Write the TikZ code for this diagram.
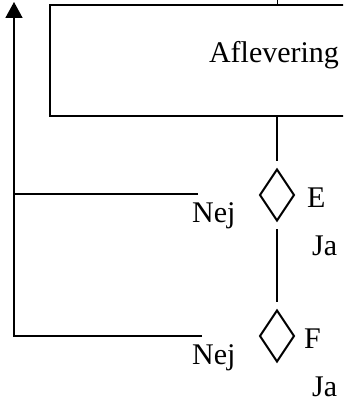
\documentclass[tikz,border=0pt]{standalone}
\usepackage{fontspec}
\setmainfont{Liberation Serif}
\usetikzlibrary{arrows.meta, shapes.geometric}

\begin{document}
\begin{tikzpicture}[x=1pt, y=-1pt,
  blockbox/.style={rectangle, draw=black, line width=1.6pt,
                   minimum width=448pt, minimum height=111pt, inner sep=0pt},
  decbox/.style={diamond, draw=black, line width=2pt, inner sep=0pt,
                 minimum width=39pt, minimum height=56pt, outer sep=6pt},
  lbl/.style={anchor=base west, inner sep=0pt, font=\fontsize{30}{30}\selectfont},
  link/.style={line width=1.6pt, black},
  arr/.style={-{Triangle[width=17pt, length=16pt]}, line width=1.6pt, black}
]
\clip (0,0) rectangle (343,403);

% Box at the top, cut off at the right
\node[blockbox] (afl) at (274,60.5) {};
\node[lbl, anchor=base] (afltxt) at (274,63) {Aflevering};

% Decisions
\node[decbox] (E) at (277,195) {};
\node[decbox] (F) at (277,336) {};

\node[lbl] (Eno)  at (192,222) {Nej};
\node[lbl] (Etag) at (307,207) {E};
\node[lbl] (Eja)  at (312,255) {Ja};
\node[lbl] (Fno)  at (192,364) {Nej};
\node[lbl] (Ftag) at (304,348) {F};
\node[lbl] (Fja)  at (312,396) {Ja};

% Free ends of the lines
\coordinate (top)  at (277.5,0);
\coordinate (tip)  at (14,2);
\coordinate (eend) at (198,194);
\coordinate (fend) at (202,336);

% Main flow
\draw[link] (top) -- (top |- afl.north);
\draw[link] (afl.south -| E.north) -- (E.north);
\draw[link] (E.south) -- (F.north);

% Nej branches back to the top
\draw[link] (eend) -- (eend -| tip);
\draw[arr] (fend) -- (fend -| tip) -- (tip);

\end{tikzpicture}
\end{document}
